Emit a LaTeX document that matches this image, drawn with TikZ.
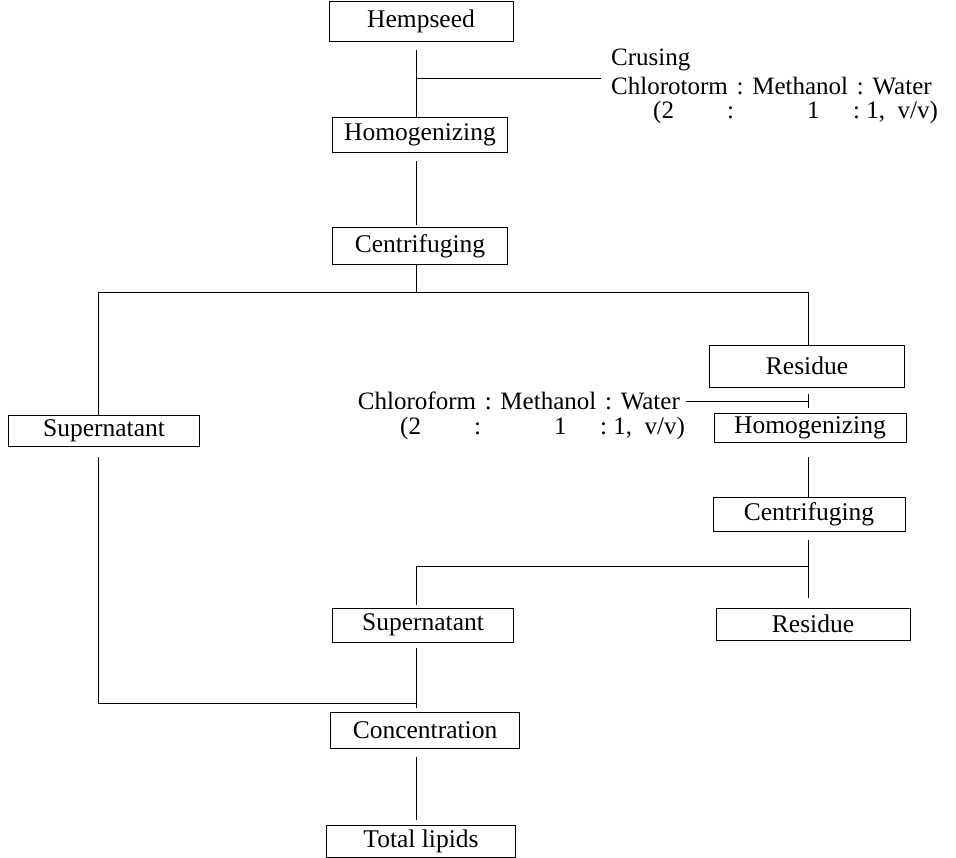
\documentclass[tikz,border=0pt]{standalone}
\usepackage{fontspec}
\setmainfont{Liberation Serif}
\usetikzlibrary{calc}
\newcommand{\ratiotext}{\makebox[74pt][l]{(2}\makebox[80pt][l]{:}\makebox[46pt][l]{1}:\ 1,\ \ v/v)}
\newcommand{\csep}{\hspace{0.35em}:\hspace{0.35em}}
\begin{document}
\begin{tikzpicture}[x=1pt,y=-1pt,
  box/.style={draw, line width=0.9pt, inner sep=0pt, font=\fontsize{25.5}{28}\selectfont},
  lbl/.style={inner sep=0pt, font=\fontsize{25}{28}\selectfont},
  conn/.style={line width=1pt}]
\useasboundingbox (0,0) rectangle (956,857);
% boxes
\node[box, minimum width=184pt, minimum height=40pt] (hemp) at (421,21) {Hempseed};
\node[box, minimum width=175pt, minimum height=35pt] (homog1) at (420,135) {Homogenizing};
\node[box, minimum width=175pt, minimum height=37pt] (centr1) at (420,246) {Centrifuging};
\node[box, minimum width=195pt, minimum height=42pt] (res1) at (807,366) {Residue};
\node[box, minimum width=191pt, minimum height=31pt] (supL) at (104,431) {Supernatant};
\node[box, minimum width=192pt, minimum height=29pt] (homog2) at (810,428) {Homogenizing};
\node[box, minimum width=192pt, minimum height=34pt] (centr2) at (809,514) {Centrifuging};
\node[box, minimum width=181pt, minimum height=34pt] (sup2) at (423,625) {Supernatant};
\node[box, minimum width=194pt, minimum height=32pt] (res2) at (813,624) {Residue};
\node[box, minimum width=189pt, minimum height=36pt] (conc) at (425,730) {Concentration};
\node[box, minimum width=189pt, minimum height=32pt] (total) at (421,841) {Total lipids};
% labels
\node[lbl, anchor=west] (crus) at (611,60) {Crusing};
\node[lbl, anchor=west] (chl1) at (611,86) {Chlorotorm\csep Methanol\csep Water};
\node[lbl, anchor=west] (rat1) at (653,112) {\ratiotext};
\node[lbl, anchor=east] (chl2) at (680,401) {Chloroform\csep Methanol\csep Water};
\node[lbl, anchor=west] (rat2) at (400,428) {\ratiotext};
% junction coordinates
\coordinate (tx) at (416,0);
\coordinate (rx) at (808,0);
\coordinate (lx) at (98,0);
\coordinate (j1) at (416,78);
\coordinate (b1) at (0,292);
\coordinate (b2) at (0,566);
\coordinate (b3) at (0,703);
% connectors
\draw[conn] ($(hemp.south -| tx)+(0,9)$) -- (homog1.north -| tx);
\draw[conn] (j1) -- ($(chl1.west |- j1)+(-10,0)$);
\draw[conn] ($(homog1.south -| tx)+(0,8)$) -- ($(centr1.north -| tx)+(0,-2)$);
\draw[conn] (centr1.south -| tx) -- (tx |- b1);
\draw[conn] (supL.north -| lx) -- (lx |- b1) -- (rx |- b1) -- (res1.north -| rx);
\draw[conn] ($(chl2.east)+(6,0)$) -- (rx |- chl2.east);
\draw[conn] ($(rx |- chl2.east)+(0,-7)$) -- ($(rx |- chl2.east)+(0,7)$);
\draw[conn] ($(homog2.south -| rx)+(0,14)$) -- (centr2.north -| rx);
\draw[conn] ($(centr2.south -| rx)+(0,9)$) -- ($(res2.north -| rx)+(0,-10)$);
\draw[conn] (rx |- b2) -- (tx |- b2) -- ($(sup2.north -| tx)+(0,-3)$);
\draw[conn] ($(supL.south -| lx)+(0,10)$) -- (lx |- b3) -- (tx |- b3);
\draw[conn] ($(sup2.south -| tx)+(0,6)$) -- ($(conc.north -| tx)+(0,-4)$);
\draw[conn] ($(conc.south -| tx)+(0,9)$) -- ($(total.north -| tx)+(0,-5)$);
\end{tikzpicture}
\end{document}
